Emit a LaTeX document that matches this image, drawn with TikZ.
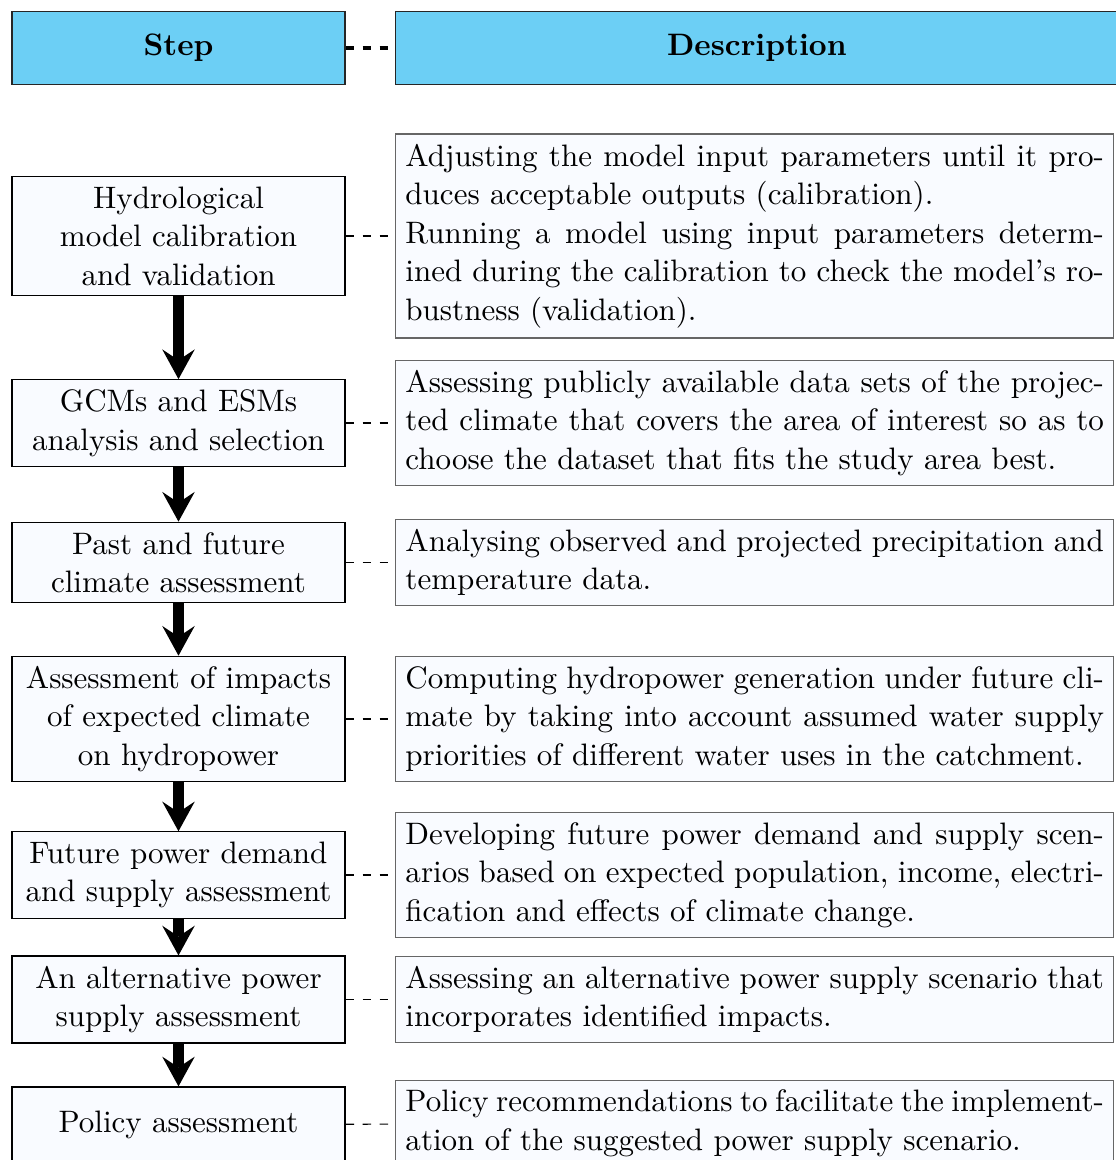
\documentclass[tikz,border=0pt]{standalone}
\usetikzlibrary{arrows.meta}
\definecolor{headblue}{RGB}{108,207,245}
\definecolor{boxfill}{RGB}{249,251,255}

\begin{document}
\begin{tikzpicture}[x=0.3529pt,y=-0.3529pt]
    \tikzstyle{head}=[rectangle,draw=black!85,fill=headblue,minimum height=26pt,inner sep=3.5pt,font=\fontsize{10.95}{13.6}\selectfont\bfseries]
    \tikzstyle{stepbox}=[rectangle,draw=black,fill=boxfill,text width=110.5pt,inner sep=3.5pt,align=center,font=\fontsize{10.95}{13.6}\selectfont]
    \tikzstyle{descbox}=[rectangle,draw=black!60,fill=boxfill,text width=246.5pt,inner sep=3.5pt,align=justify,anchor=west,font=\fontsize{10.95}{13.6}\selectfont]
    \tikzstyle{flow}=[line width=3.6pt,-{Stealth[length=10.5pt,width=11.5pt,inset=3.8pt,line width=0pt]}]
    \useasboundingbox (0,0) rectangle (1115,1160);

    \node[head,minimum width=117.5pt] (H-1) at (178.5,48) {Step};
    \node[head,minimum width=255pt,anchor=west] (H-2) at (395,48) {Description};

    \foreach \num/\y/\txt in {1/236/{Hydrological\\ model calibration\\ and validation},
                              2/423/{GCMs and ESMs\\ analysis and selection},
                              3/562.5/{Past and future\\ climate assessment},
                              4/719/{Assessment of impacts\\ of expected climate\\ on hydropower},
                              5/875/{Future power demand\\ and supply assessment},
                              6/999.5/{An alternative power\\ supply assessment}}
        \node[stepbox] (S-\num) at (178.5,\y) {\txt};
    \node[stepbox,minimum height=26.5pt] (S-7) at (178.5,1124.5) {Policy assessment};

    \foreach \num/\y/\txt in {1/236/{Adjusting the model input parameters until it pro-\linebreak duces acceptable outputs (calibration).\\ Running a model using input parameters determ-\linebreak ined during the calibration to check the model's ro-\linebreak bustness (validation).},
                              2/423/{Assessing publicly available data sets of the projec-\linebreak ted climate that covers the area of interest so as to\linebreak choose the dataset that fits the study area best.},
                              3/562.5/{Analysing observed and projected precipitation and\linebreak temperature data.},
                              4/719/{Computing hydropower generation under future cli-\linebreak mate by taking into account assumed water supply\linebreak priorities of different water uses in the catchment.},
                              5/875/{Developing future power demand and supply scen-\linebreak arios based on expected population, income, electri-\linebreak fication and effects of climate change.},
                              6/999.5/{Assessing an alternative power supply scenario that\linebreak incorporates identified impacts.},
                              7/1123.5/{Policy recommendations to facilitate the implement-\linebreak ation of the suggested power supply scenario.}}
        \node[descbox] (D-\num) at (395,\y) {\txt};

    \draw[ultra thick,dashed] (H-1) -- (H-2);
    \foreach \num in {1,...,7}
        \draw[dashed] (S-\num) -- (D-\num);
    \foreach \from/\to in {1/2,2/3,3/4,4/5,5/6,6/7}
        \draw[flow] (S-\from) -- (S-\to);
\end{tikzpicture}
\end{document}
